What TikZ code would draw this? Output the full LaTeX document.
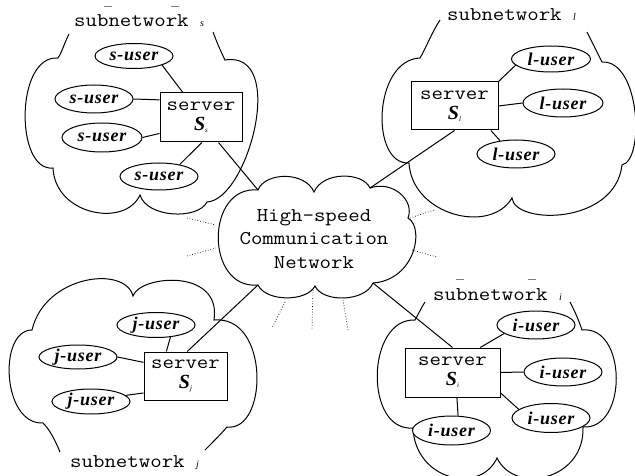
\documentclass[tikz,border=0pt]{standalone}
\usepackage{fontspec}
\setmainfont{Liberation Serif}
\newfontfamily\monof[FakeStretch=1.14]{Latin Modern Mono}
\newfontfamily\userf[LetterSpace=4]{Liberation Serif}
\usetikzlibrary{shapes.geometric,calc}
\newcommand\Sid[1]{{\normalfont\fontsize{20}{20}\selectfont\bfseries\itshape S}\raisebox{-2pt}{\normalfont\fontsize{7}{7}\selectfont\itshape #1}}
\newcommand\smit[1]{{\normalfont\fontsize{10}{10}\selectfont\itshape #1}}
\tikzset{
  conn/.style={line width=1pt},
  cloudline/.style={line width=1pt},
  user/.style={ellipse, draw, line width=1pt, fill=white, inner sep=0pt,
    minimum width=78pt, minimum height=27pt,
    font=\userf\fontsize{18}{18}\selectfont\bfseries\itshape},
  serverbox/.style={rectangle, draw, line width=1pt, fill=white, inner sep=0pt,
    align=center, font=\monof\fontsize{19.5}{21}\selectfont},
  title/.style={anchor=base west, inner sep=0pt, font=\monof\fontsize{19.5}{21}\selectfont},
  ray/.style={dotted, line width=0.7pt},
  bar/.style={line width=0.8pt, gray}
}
\begin{document}
\begin{tikzpicture}[x=1pt,y=-1pt]
\fill[white] (0,0) rectangle (635,476);
\useasboundingbox (0,0) rectangle (635,476);

% ---------- subnetwork clouds ----------
\draw[cloudline] (69,34) .. controls (64,44) and (62,52) .. (58,58)
  .. controls (15,55) and (15,172) .. (53,168)
  .. controls (55,215) and (125,228) .. (140,195)
  .. controls (147,218) and (198,220) .. (207,202)
  .. controls (248,200) and (288,50) .. (225,60)
  .. controls (220,50) and (216,40) .. (213,32);

\draw[cloudline] (440,20) .. controls (432,32) and (426,48) .. (420,58)
  .. controls (373,60) and (370,165) .. (409,163)
  .. controls (412,215) and (490,235) .. (512,198)
  .. controls (515,225) and (615,225) .. (622,165)
  .. controls (645,160) and (640,60) .. (602,62)
  .. controls (596,50) and (591,40) .. (587,32);

\draw[cloudline] (60,452) .. controls (55,440) and (50,430) .. (43,423)
  .. controls (2,425) and (-2,330) .. (32,330)
  .. controls (45,275) and (125,265) .. (133,296)
  .. controls (140,275) and (222,268) .. (214,320)
  .. controls (270,315) and (268,432) .. (227,427)
  .. controls (220,435) and (212,443) .. (205,450);

\draw[cloudline] (425,302) .. controls (421,308) and (418,315) .. (415,320)
  .. controls (366,318) and (364,432) .. (413,428)
  .. controls (415,480) and (480,495) .. (497,458)
  .. controls (515,495) and (585,480) .. (583,427)
  .. controls (628,430) and (627,325) .. (582,330)
  .. controls (578,318) and (574,310) .. (570,302);

% ---------- titles ----------
\node[title] (ts) at (74,27) {subnetwork \smit{s}};
\node[title] (tl) at (447,21) {subnetwork \smit{l}};
\node[title] (tj) at (70,467) {subnetwork \smit{j}};
\node[title] (ti) at (433,300) {subnetwork \smit{i}};
\draw[bar] (104,6) -- (112,6);
\draw[bar] (171,6) -- (179,6);
\draw[bar] (456,279) -- (464,279);
\draw[bar] (528,279) -- (536,279);

% ---------- central network ----------
\coordinate (netTL) at (258,190);
\coordinate (netTM) at (314,192);
\coordinate (netTR) at (370,188);
\coordinate (netR)  at (408,218);
\coordinate (netBR) at (373,283);
\coordinate (netBM) at (315,286);
\coordinate (netBL) at (258,285);
\draw[cloudline, fill=white] (netTL) .. controls (265,172) and (305,171) .. (netTM)
  .. controls (323,171) and (363,172) .. (netTR)
  .. controls (392,180) and (415,200) .. (netR)
  .. controls (425,228) and (415,280) .. (netBR)
  .. controls (365,302) and (323,303) .. (netBM)
  .. controls (307,302) and (266,302) .. (netBL)
  .. controls (205,290) and (205,185) .. (netTL) -- cycle;
\node[font=\monof\fontsize{19.5}{23.5}\selectfont, align=center, inner sep=0pt] (nettext) at (314,239)
  {High-speed\\Communication\\Network};

\draw[ray] (187,218) -- (216,225);
\draw[ray] (187,256) -- (216,248);
\draw[ray] (410,218) -- (434,210);
\draw[ray] (412,250) -- (437,257);
\draw[ray] (285,302) -- (272,328);
\draw[ray] (313,290) -- (312,330);
\draw[ray] (343,300) -- (348,330);

% ---------- servers ----------
\node[serverbox, minimum width=82pt, minimum height=49pt] (ss) at (201,117.5) {server\\[-1pt]\Sid{s}};
\node[serverbox, minimum width=87pt, minimum height=48pt] (sl) at (454.5,106) {server\\[-1pt]\Sid{l}};
\node[serverbox, minimum width=83pt, minimum height=48pt] (sj) at (185.5,376) {server\\[-1pt]\Sid{j}};
\node[serverbox, minimum width=95pt, minimum height=49pt] (si) at (452.5,372.5) {server\\[-1pt]\Sid{i}};

% ---------- users ----------
\node[user, minimum height=25pt] (su1) at (134,56) {s-user};
\node[user, minimum height=28pt] (su2) at (94,99) {s-user};
\node[user, minimum width=80pt, minimum height=29pt] (su3) at (102,137.5) {s-user};
\node[user, minimum height=27pt] (su4) at (159,176.5) {s-user};

\node[user, minimum width=79pt, minimum height=26pt] (lu1) at (551,59) {l-user};
\node[user, minimum width=80pt, minimum height=28pt] (lu2) at (563,103) {l-user};
\node[user, minimum height=28pt] (lu3) at (516,154) {l-user};

\node[user, minimum height=25pt] (ju1) at (156,325) {j-user};
\node[user, minimum height=24pt] (ju2) at (78,357) {j-user};
\node[user, minimum height=25pt] (ju3) at (91,401.5) {j-user};

\node[user, minimum height=28pt] (iu1) at (536,325) {i-user};
\node[user, minimum height=28pt] (iu2) at (563,372) {i-user};
\node[user, minimum height=29pt] (iu3) at (551,418) {i-user};
\node[user, minimum height=29pt] (iu4) at (451.5,430.5) {i-user};

% ---------- connectors ----------
\draw[conn] (su1.-18) -- (ss.126);
\draw[conn] (su2.0) -- (ss.157);
\draw[conn] (su3.0) -- (ss.201);
\draw[conn] (su4.30) -- (ss.-88);
\draw[conn] (ss.-55) -- (netTL);

\draw[conn] (sl.north east) -- (lu1.190);
\draw[conn] (sl.0) -- (lu2.180);
\draw[conn] (sl.-34) -- (lu3.140);
\draw[conn] (sl.south) -- (netTR);

\draw[conn] (ju1.-40) -- (sj.128);
\draw[conn] (ju2.0) -- (sj.162);
\draw[conn] (ju3.10) -- (sj.202);
\draw[conn] (sj.86) -- (netBL);

\draw[conn] (si.42) -- (iu1.195);
\draw[conn] (si.0) -- (iu2.180);
\draw[conn] (si.-23) -- (iu3.165);
\draw[conn] (si.-80) -- (iu4.66);
\draw[conn] (netBR) -- (si.north);
\end{tikzpicture}
\end{document}
